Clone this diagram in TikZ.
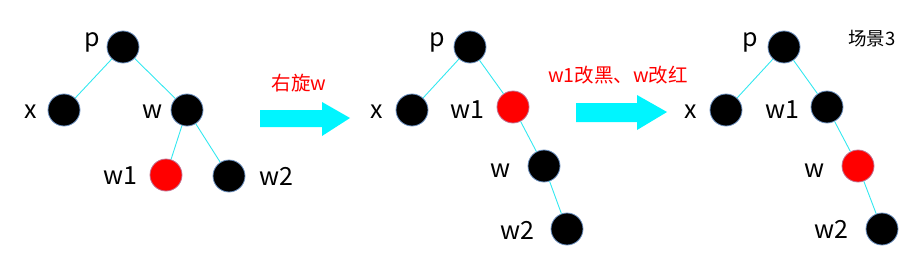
\documentclass[tikz,border=0pt]{standalone}
\usepackage{fontspec}
\setmainfont{Noto Sans CJK SC}
\definecolor{edgecyan}{HTML}{33E8F0}
\definecolor{rimblue}{HTML}{6A8FBF}
\definecolor{rimred}{HTML}{C07090}
\definecolor{arrowcyan}{HTML}{00F5FF}
\begin{document}
\begin{tikzpicture}[x=1pt,y=-1pt,
  blk/.style={circle,fill=black,draw=rimblue,line width=0.8pt,minimum size=32pt,inner sep=0pt},
  red/.style={circle,fill=red,draw=rimred,line width=0.8pt,minimum size=32pt,inner sep=0pt},
  lbl/.style={font=\fontsize{25}{27}\selectfont,inner sep=0pt,anchor=base},
  note/.style={font=\fontsize{19.5}{21}\selectfont,inner sep=0pt,anchor=base},
  edge/.style={draw=edgecyan,line width=0.9pt}]
\useasboundingbox (0,0) rectangle (920,262);
% tree 1
\node[blk] (p1) at (123,47) {};
\node[blk] (x1) at (64,110) {};
\node[blk] (w1) at (187,110) {};
\node[red] (wa1) at (166,175) {};
\node[blk] (wb1) at (229,176) {};
\node[lbl] (lp1) at (92,47) {p};
\node[lbl] (lx1) at (31,118) {x};
\node[lbl] (lw1) at (153,118) {w};
\node[lbl] (lwa1) at (120,184) {w1};
\node[lbl] (lwb1) at (276,185) {w2};
\draw[edge] (p1) -- (x1);
\draw[edge] (p1) -- (w1);
\draw[edge] (w1) -- (wa1);
\draw[edge] (w1) -- (wb1);
% arrow 1
\fill[arrowcyan] (260,110) -- (322,110) -- (322,102) -- (350,118) -- (322,136) -- (322,127) -- (260,127) -- cycle;
\node[note,text=red] (t1) at (299,90) {右旋w};
% tree 2
\node[blk] (p2) at (470,47) {};
\node[blk] (x2) at (412,110) {};
\node[red] (wa2) at (513,107) {};
\node[blk] (w2) at (544,166) {};
\node[blk] (wb2) at (567,229) {};
\node[lbl] (lp2) at (437,47) {p};
\node[lbl] (lx2) at (377,118) {x};
\node[lbl] (lwa2) at (467,118) {w1};
\node[lbl] (lw2) at (501,177) {w};
\node[lbl] (lwb2) at (517,239) {w2};
\draw[edge] (p2) -- (x2);
\draw[edge] (p2) -- (wa2);
\draw[edge] (wa2) -- (w2);
\draw[edge] (w2) -- (wb2);
% arrow 2
\fill[arrowcyan] (576,103) -- (637,103) -- (637,95) -- (667,112) -- (637,130) -- (637,122) -- (576,122) -- cycle;
\node[note,text=red] (t2) at (618,82) {w1改黑、w改红};
% tree 3
\node[blk] (p3) at (784,47) {};
\node[blk] (x3) at (726,110) {};
\node[blk] (wa3) at (827,107) {};
\node[red] (w3) at (858,166) {};
\node[blk] (wb3) at (882,229) {};
\node[lbl] (lp3) at (750,47) {p};
\node[lbl] (lx3) at (691,118) {x};
\node[lbl] (lwa3) at (782,118) {w1};
\node[lbl] (lw3) at (815,177) {w};
\node[lbl] (lwb3) at (831,238) {w2};
\draw[edge] (p3) -- (x3);
\draw[edge] (p3) -- (wa3);
\draw[edge] (wa3) -- (w3);
\draw[edge] (w3) -- (wb3);
\node[note,font=\fontsize{18.5}{20}\selectfont] (scene) at (872,46) {场景3};
\end{tikzpicture}
\end{document}
